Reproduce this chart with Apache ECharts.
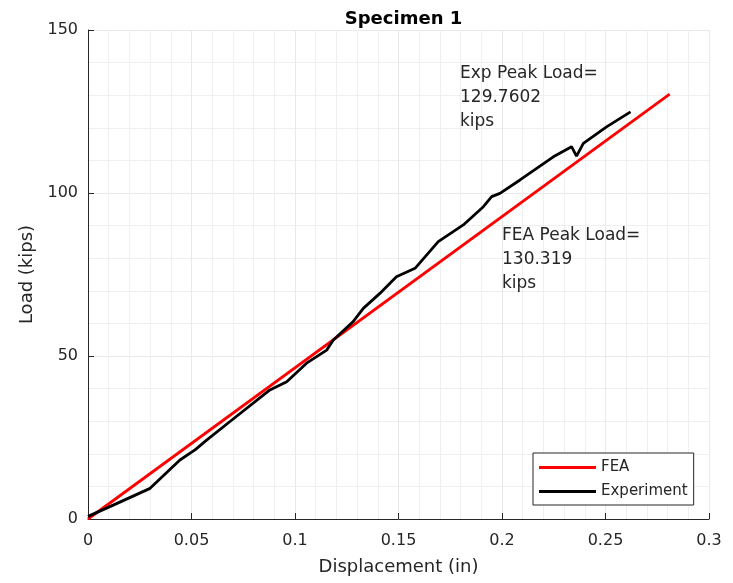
<!DOCTYPE html>
<html>
<head>
<meta charset="utf-8">
<script src="https://cdn.jsdelivr.net/npm/echarts@6/dist/echarts.min.js"></script>
<style>html,body{margin:0;padding:0;background:#fff}#c{width:733px;height:583px}</style>
</head>
<body>
<div id="c"></div>
<script>
// Data
const feaDisp = [0, 0.281];
const feaLoad = [0, 130.3];
const expDisp = [0, 0.0106, 0.030, 0.0444, 0.0517, 0.0573, 0.0686, 0.0879, 0.096, 0.1056, 0.1153, 0.1185, 0.128, 0.133, 0.141, 0.149, 0.158, 0.1692, 0.1813, 0.191, 0.195, 0.199, 0.2087, 0.2248, 0.2336, 0.236, 0.2393, 0.2505, 0.2621];
const expLoad = [0.8, 3.8, 9.4, 18.1, 21.2, 24.2, 29.9, 39.6, 42.1, 47.8, 51.8, 54.9, 60.5, 64.6, 69.2, 74.3, 76.9, 85.1, 90.2, 95.8, 98.9, 99.9, 104.0, 111.1, 114.2, 111.3, 115.2, 120.3, 124.9];
const seriesNames = ['FEA', 'Experiment'];
const xTicks = {min: 0, max: 0.3, interval: 0.05};
const yTicks = {min: 0, max: 150, interval: 50};
const titleText = 'Specimen 1';
const xLabel = 'Displacement (in)';
const yLabel = 'Load (kips)';
const expNote = ['Exp Peak Load=', '129.7602', 'kips'];
const feaNote = ['FEA Peak Load=', '130.319', 'kips'];

const FONT = '"DejaVu Sans", sans-serif';
const TXT = '#262626';
const chart = echarts.init(document.getElementById('c'));
const zip = (a, b) => a.map((v, i) => [v, b[i]]);
const axisCommon = {
  axisLine: {show: true, onZero: false, lineStyle: {color: TXT, width: 1}},
  axisTick: {show: true, inside: true, length: 6, lineStyle: {color: TXT}},
  splitLine: {show: true, lineStyle: {color: '#e9e9e9', width: 1}},
  minorSplitLine: {show: true, lineStyle: {color: '#efefef', width: 1}},
  nameTextStyle: {fontFamily: FONT, fontSize: 18, color: TXT},
};
chart.setOption({
  animation: false,
  backgroundColor: '#fff',
  title: {
    text: titleText, left: 398.5, textAlign: 'center', top: 5,
    textStyle: {fontFamily: FONT, fontSize: 18, fontWeight: 'bold', color: '#000'}
  },
  grid: {left: 88, right: 24, top: 30, bottom: 64, containLabel: false},
  xAxis: Object.assign({}, axisCommon, {
    type: 'value', min: xTicks.min, max: xTicks.max, interval: xTicks.interval,
    name: xLabel, nameLocation: 'middle', nameGap: 39,
    minorTick: {show: false, splitNumber: 5},
    axisLabel: {fontFamily: FONT, fontSize: 16, color: TXT, margin: 14,
      formatter: v => String(+v.toFixed(2))}
  }),
  yAxis: Object.assign({}, axisCommon, {
    type: 'value', min: yTicks.min, max: yTicks.max, interval: yTicks.interval,
    name: yLabel, nameLocation: 'middle', nameGap: 43,
    minorTick: {show: false, splitNumber: 5},
    axisLabel: {fontFamily: FONT, fontSize: 16, color: TXT, margin: 10}
  }),
  legend: {
    orient: 'vertical', left: 533, top: 453,
    data: seriesNames.map(n => ({name: n, icon: 'rect'})),
    itemWidth: 57, itemHeight: 3, itemGap: 9,
    padding: [7, 6, 6, 6],
    backgroundColor: '#fff', borderColor: '#262626', borderWidth: 1,
    textStyle: {fontFamily: FONT, fontSize: 15, color: TXT}
  },
  series: [
    {name: seriesNames[0], type: 'line', data: zip(feaDisp, feaLoad), showSymbol: false, symbol: 'none',
      lineStyle: {color: '#ff0000', width: 2.8}, itemStyle: {color: '#ff0000'}, z: 3},
    {name: seriesNames[1], type: 'line', data: zip(expDisp, expLoad), showSymbol: false, symbol: 'none',
      lineStyle: {color: '#000000', width: 2.8}, itemStyle: {color: '#000000'}, z: 4}
  ],
  graphic: [
    {type: 'text', left: 460, top: 62, z: 100, style: {text: expNote.join('\n'), fontFamily: FONT, fontSize: 17, fill: TXT, lineHeight: 24}},
    {type: 'text', left: 502, top: 224, z: 100, style: {text: feaNote.join('\n'), fontFamily: FONT, fontSize: 17, fill: TXT, lineHeight: 24}}
  ]
});
</script>
</body>
</html>
